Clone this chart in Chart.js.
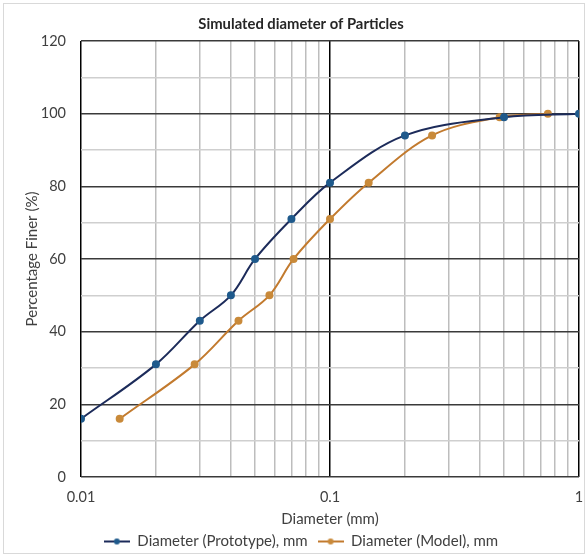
<!DOCTYPE html>
<html>
<head>
<meta charset="utf-8">
<script src="https://cdn.jsdelivr.net/npm/chart.js@4/dist/chart.umd.min.js"></script>
<style>
html,body{margin:0;padding:0;background:#fff;}
#wrap{width:586px;height:556px;position:relative;}
</style>
</head>
<body>
<div id="wrap"><canvas id="c" width="586" height="556"></canvas></div>
<script>
// ---- Data ----
const chartTitle = 'Simulated diameter of Particles';
const xAxisTitle = 'Diameter (mm)';
const yAxisTitle = 'Percentage Finer (%)';
const prototypeLabel = 'Diameter (Prototype), mm';
const modelLabel = 'Diameter (Model), mm';

const prototypeDiameter = [0.01, 0.02, 0.03, 0.04, 0.05, 0.07, 0.1, 0.2, 0.5, 1];
const prototypeFiner    = [16, 31, 43, 50, 60, 71, 81, 94, 99, 100];

const modelDiameter = [0.0143, 0.0286, 0.0429, 0.0571, 0.0714, 0.1, 0.143, 0.257, 0.48, 0.75];
const modelFiner    = [16, 31, 43, 50, 60, 71, 81, 94, 99, 100];

const xGridValues  = [0.01, 0.02, 0.03, 0.04, 0.05, 0.06, 0.07, 0.08, 0.09, 0.1, 0.2, 0.3, 0.4, 0.5, 0.6, 0.7, 0.8, 0.9, 1];
const xMajorValues = [0.01, 0.1, 1];
const xTickLabels  = ['0.01', '0.1', '1'];
const yTickLabels  = [0, 20, 40, 60, 80, 100, 120];

// ---- Helpers ----
const FONT = 'Lato';
const TEXT = '#404040';
function findMajor(v) {
  for (let i = 0; i < xMajorValues.length; i++) {
    if (Math.abs(v - xMajorValues[i]) < 1e-9) return i;
  }
  return -1;
}
function makeIcon(lineColor, dotColor) {
  const c = document.createElement('canvas');
  c.width = 26; c.height = 8;
  const g = c.getContext('2d');
  g.strokeStyle = lineColor; g.lineWidth = 2;
  g.beginPath(); g.moveTo(0, 4); g.lineTo(26, 4); g.stroke();
  g.fillStyle = dotColor;
  g.beginPath(); g.arc(13, 4, 3, 0, Math.PI * 2); g.fill();
  return c;
}
const protoLine = '#1c2b5a', protoDot = '#1f5a8c';
const modelLine = '#c27a2e', modelDot = '#c98a3a';
const icons = [makeIcon(protoLine, protoDot), makeIcon(modelLine, modelDot)];

const borderPlugin = {
  id: 'outerBorder',
  afterDraw(chart) {
    const ctx = chart.ctx;
    ctx.save();
    ctx.strokeStyle = '#d9d9d9';
    ctx.lineWidth = 1;
    ctx.strokeRect(3.5, 3.5, 581, 550);
    ctx.restore();
  }
};

new Chart(document.getElementById('c'), {
  type: 'line',
  data: {
    datasets: [
      {
        label: prototypeLabel,
        data: prototypeDiameter.map((d, i) => ({x: d, y: prototypeFiner[i]})),
        borderColor: protoLine,
        backgroundColor: protoDot,
        pointBackgroundColor: protoDot,
        pointBorderColor: protoDot,
        pointRadius: 3,
        borderWidth: 2,
        tension: 0.35,
        fill: false
      },
      {
        label: modelLabel,
        data: modelDiameter.map((d, i) => ({x: d, y: modelFiner[i]})),
        borderColor: modelLine,
        backgroundColor: modelDot,
        pointBackgroundColor: modelDot,
        pointBorderColor: modelDot,
        pointRadius: 3,
        borderWidth: 2,
        tension: 0.35,
        fill: false
      }
    ]
  },
  options: {
    responsive: false,
    animation: false,
    devicePixelRatio: 1,
    layout: { padding: { left: 23, right: 7, top: 0, bottom: -3 } },
    plugins: {
      title: {
        display: true,
        text: chartTitle,
        color: '#262626',
        font: { family: FONT, size: 14.8, weight: 'bold' },
        padding: { top: 15, bottom: 8.2 }
      },
      legend: {
        position: 'bottom',
        labels: {
          usePointStyle: true,
          pointStyleWidth: 26,
          padding: 10,
          color: TEXT,
          font: { family: FONT, size: 15 },
          generateLabels: (chart) => chart.data.datasets.map((ds, i) => ({
            text: ds.label,
            pointStyle: icons[i],
            fillStyle: ds.borderColor,
            strokeStyle: ds.borderColor,
            lineWidth: 0,
            hidden: false,
            datasetIndex: i,
            fontColor: TEXT
          }))
        }
      },
      tooltip: { enabled: false }
    },
    scales: {
      x: {
        type: 'logarithmic',
        min: 0.01,
        max: 1,
        afterBuildTicks: (s) => { s.ticks = xGridValues.map(v => ({ value: v })); },
        afterFit: (s) => { s.height = 47; },
        ticks: {
          autoSkip: false,
          maxRotation: 0,
          padding: 0,
          color: TEXT,
          font: { family: FONT, size: 14.5 },
          callback: (v) => { const k = findMajor(v); return k >= 0 ? xTickLabels[k] : ''; }
        },
        grid: {
          drawTicks: true,
          tickLength: 12,
          tickColor: 'rgba(0,0,0,0)',
          lineWidth: 1.5,
          color: (ctx) => (ctx.tick && findMajor(ctx.tick.value) >= 0) ? '#000000' : '#bdbdbd'
        },
        border: { display: false },
        title: {
          display: true,
          text: xAxisTitle,
          color: TEXT,
          font: { family: FONT, size: 15 },
          padding: { top: 0, bottom: -4 }
        }
      },
      y: {
        min: 0,
        max: 120,
        afterFit: (s) => { s.width = 58; },
        ticks: {
          stepSize: 10,
          padding: 15,
          color: TEXT,
          font: { family: FONT, size: 14.5 },
          callback: (v) => yTickLabels.includes(v) ? String(v) : ''
        },
        grid: {
          drawTicks: false,
          lineWidth: 1.5,
          color: (ctx) => (ctx.tick && yTickLabels.includes(ctx.tick.value)) ? '#3a3a3a' : '#cfcfcf'
        },
        border: { display: false },
        title: {
          display: true,
          text: yAxisTitle,
          color: TEXT,
          font: { family: FONT, size: 15 },
          padding: { top: 0, bottom: 0 }
        }
      }
    }
  },
  plugins: [borderPlugin]
});
</script>
</body>
</html>
